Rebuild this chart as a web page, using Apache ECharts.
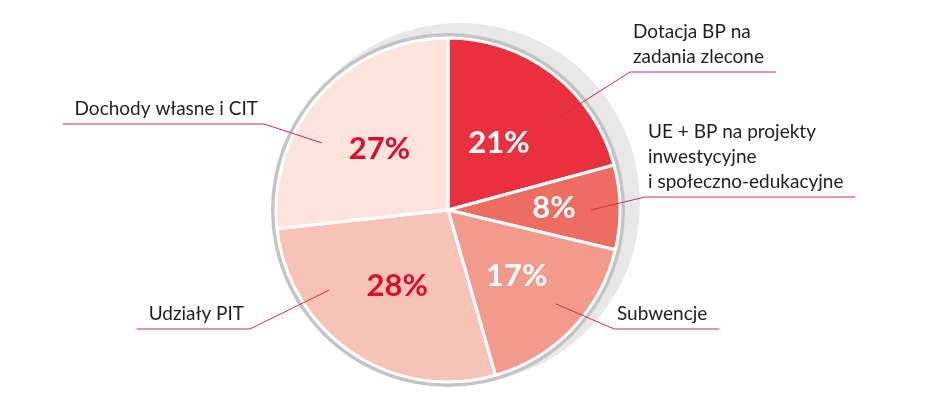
<!DOCTYPE html>
<html style="height: 100%">
    <head>
        <meta charset="utf-8">
        <title>Struktura dochodów</title>

        <script type="text/javascript" src="https://cdn.jsdelivr.net/npm/echarts@6.0.0/dist/echarts.min.js"></script>

<script>
// chart data
let categories = [
    "Dotacja BP na\nzadania zlecone",
    "UE + BP na projekty\ninwestycyjne\ni społeczno-edukacyjne",
    "Subwencje",
    "Udziały PIT",
    "Dochody własne i CIT",
];
let shares = [21, 8, 17, 28, 27];
let percentLabels = ["21%", "8%", "17%", "28%", "27%"];

// styling
let sliceColors   = ["#e8303e", "#ee6d62", "#f29a8b", "#f8c3b7", "#fde3dc"];
let percentColors = ["#ffffff", "#ffffff", "#ffffff", "#d8102f", "#d8102f"];
let leaderColor   = "#d42a50";

// layout (px, angles in degrees clockwise from 12 o'clock)
let center        = [448, 210];
let percentRadius = [84, 106, 95, 91, 92];
let anchorAngle   = [50, 90, 131, 236, 298];
let anchorRadius  = 143;
let labelSide     = ["right", "right", "right", "left", "left"];
let labelEdgeX    = [633, 648, 617, 244, 258];
let underlineY    = [72, 197, 329, 329, 124];

window.addEventListener('DOMContentLoaded', (event) => {
    let chart = echarts.init(document.getElementById('target'));
    window.addEventListener("resize", chart.resize);

    let Pt = (deg, r) => {
        let rad = deg * Math.PI / 180;
        return [center[0] + r * Math.sin(rad), center[1] - r * Math.cos(rad)];
    };

    // mid angle of each slice
    let total = shares.reduce((a, b) => a + b, 0);
    let midAngle = [];
    let acc = 0;
    for (let v of shares)
    {
        midAngle.push((acc + v / 2) / total * 360);
        acc += v;
    }

    let data = categories.map((name, i) => ({
        name: name,
        value: shares[i],
        itemStyle: { color: sliceColors[i] },
        label: { color: percentColors[i] },
    }));

    let option = {
        animation: false,
        series: [
            // grey shadow behind the pie
            {
                type: "pie",
                silent: true,
                z: 1,
                center: [460, 203],
                radius: 180,
                label: { show: false },
                itemStyle: { color: "#e8e8e8" },
                data: [1],
            },
            // thin grey outline
            {
                type: "pie",
                silent: true,
                z: 2,
                center: center,
                radius: [173, 177],
                label: { show: false },
                itemStyle: { color: "#c4c4c4" },
                data: [1],
            },
            // slices with percentages
            {
                type: "pie",
                silent: true,
                z: 3,
                center: center,
                radius: 172,
                avoidLabelOverlap: false,
                itemStyle: {
                    borderColor: "#ffffff",
                    borderWidth: 3,
                },
                label: {
                    position: "inside",
                    fontFamily: "Lato",
                    fontWeight: "bold",
                    fontSize: 31,
                    formatter: (p) => percentLabels[p.dataIndex],
                },
                labelLayout: (params) => {
                    let i = params.dataIndex;
                    let p = Pt(midAngle[i], percentRadius[i]);
                    return {
                        x: p[0],
                        y: p[1],
                        align: "center",
                        verticalAlign: "middle",
                    };
                },
                data: data,
            },
            // category names with leader lines
            {
                type: "pie",
                silent: true,
                z: 5,
                center: center,
                radius: anchorRadius,
                avoidLabelOverlap: false,
                itemStyle: { color: "rgba(0,0,0,0)" },
                label: {
                    position: "outside",
                    fontFamily: "Lato",
                    fontSize: 19,
                    lineHeight: 25,
                    color: "#1e1e1e",
                    formatter: (p) => p.name,
                },
                labelLine: {
                    show: true,
                    length: 10,
                    length2: 10,
                    lineStyle: {
                        color: leaderColor,
                        width: 1,
                    },
                },
                labelLayout: (params) => {
                    let i = params.dataIndex;
                    let w = params.labelRect.width;
                    let y = underlineY[i];
                    let start = Pt(anchorAngle[i], anchorRadius);
                    let left, bend, end;

                    if (labelSide[i] == "right")
                    {
                        left = labelEdgeX[i];
                        bend = [left - 3, y];
                        end  = [left + w + 12, y];
                    }
                    else
                    {
                        left = labelEdgeX[i] - w;
                        bend = [labelEdgeX[i] + 6, y];
                        end  = [left - 12, y];
                    }

                    return {
                        x: left,
                        y: y - 3,
                        align: "left",
                        verticalAlign: "bottom",
                        labelLinePoints: [start, bend, end],
                    };
                },
                data: data.map(d => ({ name: d.name, value: d.value })),
            },
        ],
    };

    chart.setOption(option, true);
});
</script>

    </head>

    <body style="height: 100%; margin: 0; background: #ffffff">
        <div id="target" style="height: 100%"></div>
    </body>
</html>
